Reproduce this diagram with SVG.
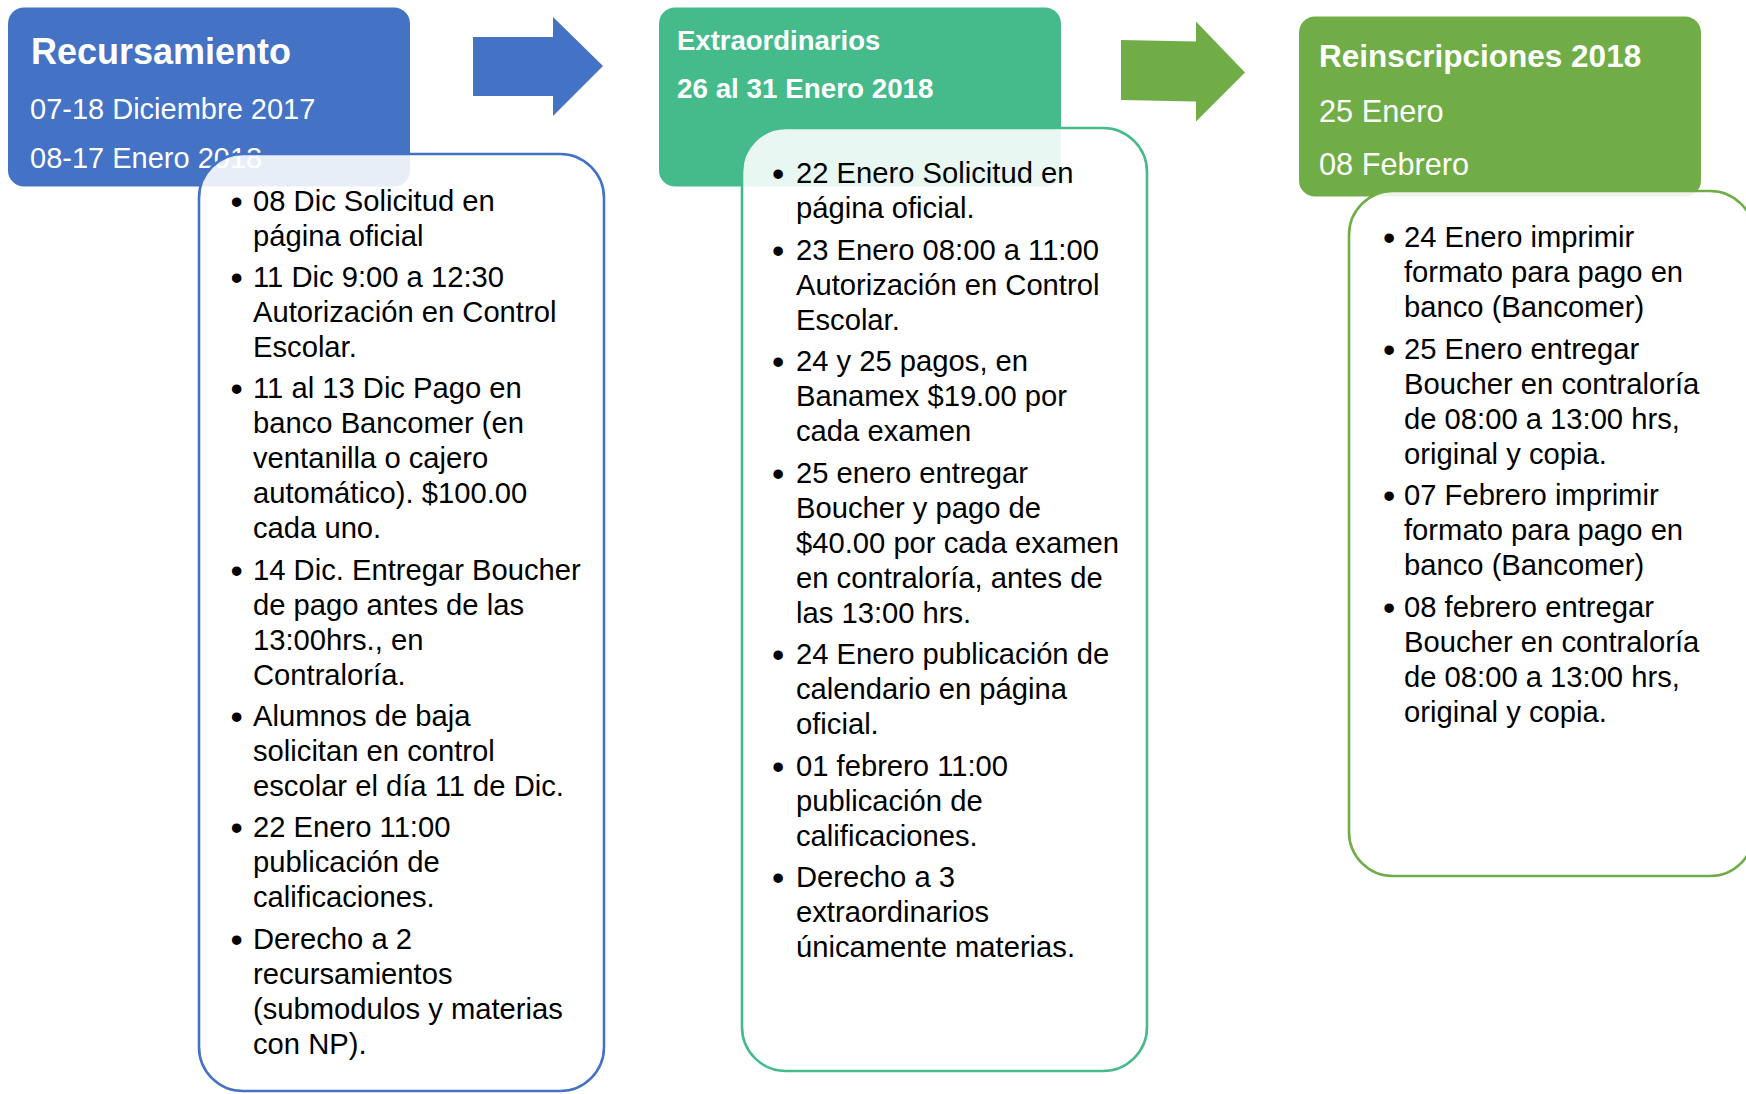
<svg xmlns="http://www.w3.org/2000/svg" width="1746" height="1094" viewBox="0 0 1746 1094">
<style>
.hd{fill:#ffffff;font-family:"Liberation Sans",Arial,sans-serif}
.b{font-weight:bold}
.body{fill:#000000;font-family:"Liberation Sans",Arial,sans-serif;font-size:29.2px}
.bu{font-size:35px}
.panel{fill:#ffffff;fill-opacity:0.88;stroke-width:2.6}
</style>
<rect width="1746" height="1094" fill="#ffffff"/>

<g id="recursamiento">
  <rect x="8" y="7.5" width="402" height="179" rx="16" fill="#4472C4"/>
  <text class="hd b" x="31" y="64" font-size="36">Recursamiento</text>
  <text class="hd" x="30" y="119" font-size="29">07-18 Diciembre 2017</text>
  <text class="hd" x="30" y="168" font-size="29">08-17 Enero 2018</text>
</g>
<g id="recursamiento-detalle">
  <rect class="panel" x="199" y="154" width="405" height="937" rx="44" stroke="#4472C4"/>
  <text class="body">
    <tspan class="bu" x="230.5" y="213.7">•</tspan><tspan x="253" y="210.7">08 Dic Solicitud en</tspan>
    <tspan x="253" y="245.7">página oficial</tspan>
    <tspan class="bu" x="230.5" y="290">•</tspan><tspan x="253" y="287">11 Dic 9:00 a 12:30</tspan>
    <tspan x="253" y="322">Autorización en Control</tspan>
    <tspan x="253" y="357">Escolar.</tspan>
    <tspan class="bu" x="230.5" y="401.3">•</tspan><tspan x="253" y="398.3">11 al 13 Dic Pago en</tspan>
    <tspan x="253" y="433.3">banco Bancomer (en</tspan>
    <tspan x="253" y="468.3">ventanilla o cajero</tspan>
    <tspan x="253" y="503.3">automático). $100.00</tspan>
    <tspan x="253" y="538.3">cada uno.</tspan>
    <tspan class="bu" x="230.5" y="582.6">•</tspan><tspan x="253" y="579.6">14 Dic. Entregar Boucher</tspan>
    <tspan x="253" y="614.6">de pago antes de las</tspan>
    <tspan x="253" y="649.6">13:00hrs., en</tspan>
    <tspan x="253" y="684.6">Contraloría.</tspan>
    <tspan class="bu" x="230.5" y="728.9">•</tspan><tspan x="253" y="725.9">Alumnos de baja</tspan>
    <tspan x="253" y="760.9">solicitan en control</tspan>
    <tspan x="253" y="795.9">escolar el día 11 de Dic.</tspan>
    <tspan class="bu" x="230.5" y="840.2">•</tspan><tspan x="253" y="837.2">22 Enero 11:00</tspan>
    <tspan x="253" y="872.2">publicación de</tspan>
    <tspan x="253" y="907.2">calificaciones.</tspan>
    <tspan class="bu" x="230.5" y="951.5">•</tspan><tspan x="253" y="948.5">Derecho a 2</tspan>
    <tspan x="253" y="983.5">recursamientos</tspan>
    <tspan x="253" y="1018.5">(submodulos y materias</tspan>
    <tspan x="253" y="1053.5">con NP).</tspan>
  </text>
</g>

<g id="extraordinarios">
  <rect x="659" y="7.5" width="402" height="179" rx="16" fill="#45BB8C"/>
  <text class="hd b" x="677" y="50" font-size="27.5">Extraordinarios</text>
  <text class="hd b" x="677" y="98" font-size="27.8">26 al 31 Enero 2018</text>
</g>
<g id="extraordinarios-detalle">
  <rect class="panel" x="742" y="128" width="405" height="943" rx="44" stroke="#45BB8C"/>
  <text class="body">
    <tspan class="bu" x="772" y="186.3">•</tspan><tspan x="796" y="183.3">22 Enero Solicitud en</tspan>
    <tspan x="796" y="218.3">página oficial.</tspan>
    <tspan class="bu" x="772" y="262.8">•</tspan><tspan x="796" y="259.8">23 Enero 08:00 a 11:00</tspan>
    <tspan x="796" y="294.8">Autorización en Control</tspan>
    <tspan x="796" y="329.8">Escolar.</tspan>
    <tspan class="bu" x="772" y="374.3">•</tspan><tspan x="796" y="371.3">24 y 25 pagos, en</tspan>
    <tspan x="796" y="406.3">Banamex $19.00 por</tspan>
    <tspan x="796" y="441.3">cada examen</tspan>
    <tspan class="bu" x="772" y="485.8">•</tspan><tspan x="796" y="482.8">25 enero entregar</tspan>
    <tspan x="796" y="517.8">Boucher y pago de</tspan>
    <tspan x="796" y="552.8">$40.00 por cada examen</tspan>
    <tspan x="796" y="587.8">en contraloría, antes de</tspan>
    <tspan x="796" y="622.8">las 13:00 hrs.</tspan>
    <tspan class="bu" x="772" y="667.3">•</tspan><tspan x="796" y="664.3">24 Enero publicación de</tspan>
    <tspan x="796" y="699.3">calendario en página</tspan>
    <tspan x="796" y="734.3">oficial.</tspan>
    <tspan class="bu" x="772" y="778.8">•</tspan><tspan x="796" y="775.8">01 febrero 11:00</tspan>
    <tspan x="796" y="810.8">publicación de</tspan>
    <tspan x="796" y="845.8">calificaciones.</tspan>
    <tspan class="bu" x="772" y="890.3">•</tspan><tspan x="796" y="887.3">Derecho a 3</tspan>
    <tspan x="796" y="922.3">extraordinarios</tspan>
    <tspan x="796" y="957.3">únicamente materias.</tspan>
  </text>
</g>

<g id="reinscripciones">
  <rect x="1299" y="16.5" width="402" height="180" rx="16" fill="#70AD47"/>
  <text class="hd b" x="1319" y="67" font-size="31.5">Reinscripciones 2018</text>
  <text class="hd" x="1319" y="122" font-size="30.7">25 Enero</text>
  <text class="hd" x="1319" y="175" font-size="30.7">08 Febrero</text>
</g>
<g id="reinscripciones-detalle">
  <rect class="panel" x="1349" y="191" width="405" height="685" rx="44" stroke="#70AD47"/>
  <text class="body">
    <tspan class="bu" x="1383" y="250">•</tspan><tspan x="1404" y="247">24 Enero imprimir</tspan>
    <tspan x="1404" y="282">formato para pago en</tspan>
    <tspan x="1404" y="317">banco (Bancomer)</tspan>
    <tspan class="bu" x="1383" y="361.7">•</tspan><tspan x="1404" y="358.7">25 Enero entregar</tspan>
    <tspan x="1404" y="393.7">Boucher en contraloría</tspan>
    <tspan x="1404" y="428.7">de 08:00 a 13:00 hrs,</tspan>
    <tspan x="1404" y="463.7">original y copia.</tspan>
    <tspan class="bu" x="1383" y="508.4">•</tspan><tspan x="1404" y="505.4">07 Febrero imprimir</tspan>
    <tspan x="1404" y="540.4">formato para pago en</tspan>
    <tspan x="1404" y="575.4">banco (Bancomer)</tspan>
    <tspan class="bu" x="1383" y="620.1">•</tspan><tspan x="1404" y="617.1">08 febrero entregar</tspan>
    <tspan x="1404" y="652.1">Boucher en contraloría</tspan>
    <tspan x="1404" y="687.1">de 08:00 a 13:00 hrs,</tspan>
    <tspan x="1404" y="722.1">original y copia.</tspan>
  </text>
</g>

<g id="connectors">
  <polygon points="473,37 553,37 553,17 603,66 553,116 553,96 473,96" fill="#4472C4"/>
  <polygon points="1121,40 1196,41.5 1196,21.5 1245,72.5 1196,121.5 1196,101.5 1121,100" fill="#70AD47"/>
</g>
</svg>
